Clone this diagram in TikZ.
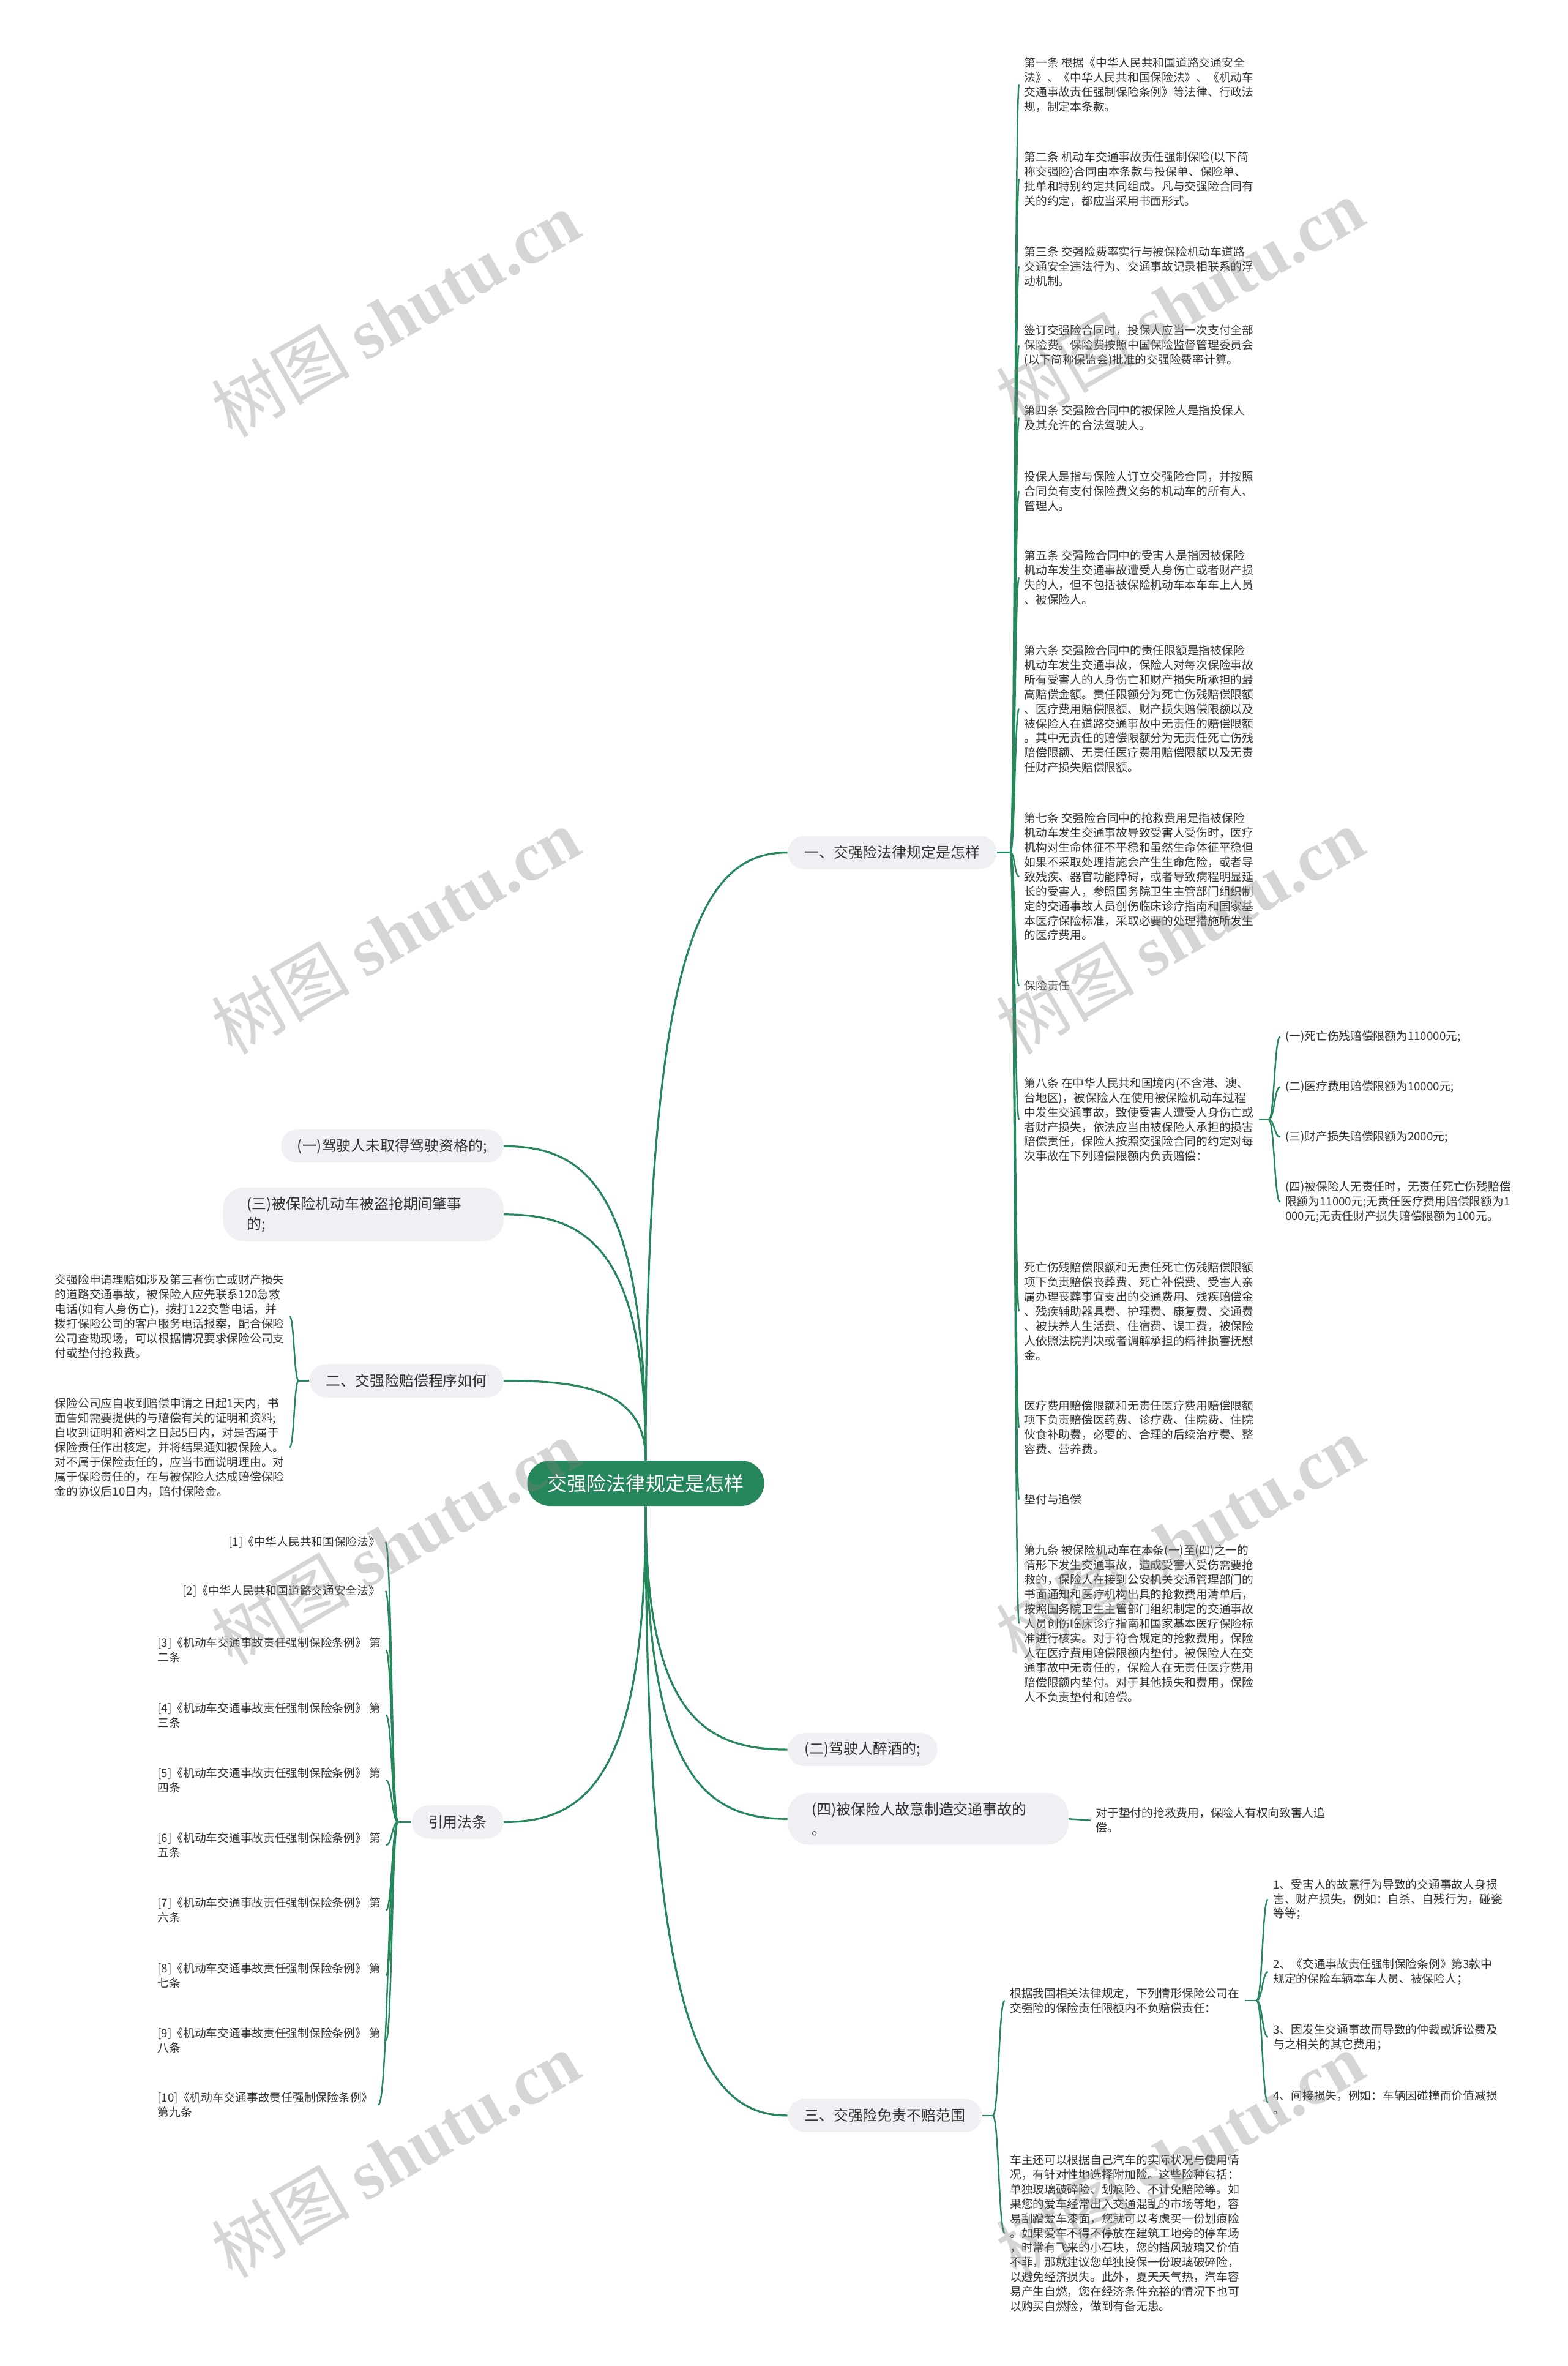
\documentclass[tikz,border=0pt]{standalone}
\usepackage{fontspec}
\setmainfont{Noto Sans CJK SC}
\newfontfamily\wmfont{Liberation Serif}
\usetikzlibrary{calc}
\definecolor{treegreen}{RGB}{38,134,92}
\definecolor{ink}{RGB}{51,51,51}
\definecolor{pill}{RGB}{238,240,243}

\begin{document}
\begin{tikzpicture}[x=1pt,y=-1pt,
  hub/.style={fill=treegreen,text=white,rounded corners=15pt,minimum height=30pt,inner xsep=13.5pt,font=\fontsize{13}{15}\selectfont},
  topic/.style={fill=pill,text=ink,rounded corners=11pt,minimum height=22pt,inner xsep=11pt,align=left,font=\fontsize{9.7}{13.5}\selectfont},
  widepill/.style={text width=154pt,inner xsep=16pt,inner ysep=6pt,rounded corners=14pt},
  note/.style={text=ink,align=left,inner sep=1.5pt,outer sep=2pt,font=\fontsize{7.6}{9.7}\selectfont},
  limb/.style={draw=treegreen,line width=1.3pt},
  twig/.style={draw=treegreen,line width=1pt},
  sprout/.style={to path={.. controls ($(\tikztostart)!.85!(\tikztostart |- \tikztotarget)$) and ($(\tikztotarget)!.6!(\tikztostart |- \tikztotarget)$) .. (\tikztotarget)}},
  curl/.style={to path={.. controls ($(\tikztostart)!.5!(\tikztostart -| \tikztotarget)$) and ($(\tikztotarget)!.5!(\tikztotarget -| \tikztostart)$) .. (\tikztotarget)}},
  wmark/.style={text=gray,opacity=.33,rotate=30,font=\fontsize{46}{46}\selectfont}]
  \useasboundingbox (0,0) rectangle (1039,1568);

  % centre and main branches
  \node[hub] (root) at (428,983) {交强险法律规定是怎样};
  \node[topic,anchor=west] (one) at (522,565) {一、交强险法律规定是怎样};
  \node[topic,anchor=east] (drv1) at (334,759.6) {(一)驾驶人未取得驾驶资格的;};
  \node[topic,widepill,anchor=east] (drv3) at (334,804.8) {(三)被保险机动车被盗抢期间肇事\\的;};
  \node[topic,anchor=east] (two) at (334,915) {二、交强险赔偿程序如何};
  \node[topic,anchor=east] (cite) at (334,1207.5) {引用法条};
  \node[topic,anchor=west] (drv2) at (522,1159.5) {(二)驾驶人醉酒的;};
  \node[topic,widepill,anchor=west] (drv4) at (522,1205.4) {(四)被保险人故意制造交通事故的\\。};
  \node[topic,anchor=west] (three) at (522,1402) {三、交强险免责不赔范围};

  \foreach \t in {one.west,drv1.east,drv3.east,two.east}
    \draw[limb] (root.north) to[sprout] (\t);
  \foreach \t in {drv2.west,drv4.west,three.west,cite.east}
    \draw[limb] (root.south) to[sprout] (\t);

  % 一
  \node[note,anchor=west] (law1) at (675.5,56.2) {第一条 根据《中华人民共和国道路交通安全\\法》、《中华人民共和国保险法》、《机动车\\交通事故责任强制保险条例》等法律、行政法\\规，制定本条款。};
  \node[note,anchor=west] (law2) at (675.5,118.6) {第二条 机动车交通事故责任强制保险(以下简\\称交强险)合同由本条款与投保单、保险单、\\批单和特别约定共同组成。凡与交强险合同有\\关的约定，都应当采用书面形式。};
  \node[note,anchor=west] (law3) at (675.5,176.6) {第三条 交强险费率实行与被保险机动车道路\\交通安全违法行为、交通事故记录相联系的浮\\动机制。};
  \node[note,anchor=west] (law4) at (675.5,229) {签订交强险合同时，投保人应当一次支付全部\\保险费。保险费按照中国保险监督管理委员会\\(以下简称保监会)批准的交强险费率计算。};
  \node[note,anchor=west] (law5) at (675.5,277) {第四条 交强险合同中的被保险人是指投保人\\及其允许的合法驾驶人。};
  \node[note,anchor=west] (law6) at (675.5,325.5) {投保人是指与保险人订立交强险合同，并按照\\合同负有支付保险费义务的机动车的所有人、\\管理人。};
  \node[note,anchor=west] (law7) at (675.5,382.7) {第五条 交强险合同中的受害人是指因被保险\\机动车发生交通事故遭受人身伤亡或者财产损\\失的人，但不包括被保险机动车本车车上人员\\、被保险人。};
  \node[note,anchor=west] (law8) at (675.5,469.8) {第六条 交强险合同中的责任限额是指被保险\\机动车发生交通事故，保险人对每次保险事故\\所有受害人的人身伤亡和财产损失所承担的最\\高赔偿金额。责任限额分为死亡伤残赔偿限额\\、医疗费用赔偿限额、财产损失赔偿限额以及\\被保险人在道路交通事故中无责任的赔偿限额\\。其中无责任的赔偿限额分为无责任死亡伤残\\赔偿限额、无责任医疗费用赔偿限额以及无责\\任财产损失赔偿限额。};
  \node[note,anchor=west] (law9) at (675.5,581) {第七条 交强险合同中的抢救费用是指被保险\\机动车发生交通事故导致受害人受伤时，医疗\\机构对生命体征不平稳和虽然生命体征平稳但\\如果不采取处理措施会产生生命危险，或者导\\致残疾、器官功能障碍，或者导致病程明显延\\长的受害人，参照国务院卫生主管部门组织制\\定的交通事故人员创伤临床诊疗指南和国家基\\本医疗保险标准，采取必要的处理措施所发生\\的医疗费用。};
  \node[note,anchor=west] (law10) at (675.5,653.4) {保险责任};
  \node[note,anchor=west] (law11) at (675.5,742) {第八条 在中华人民共和国境内(不含港、澳、\\台地区)，被保险人在使用被保险机动车过程\\中发生交通事故，致使受害人遭受人身伤亡或\\者财产损失，依法应当由被保险人承担的损害\\赔偿责任，保险人按照交强险合同的约定对每\\次事故在下列赔偿限额内负责赔偿：};
  \node[note,anchor=west] (law12) at (675.5,869) {死亡伤残赔偿限额和无责任死亡伤残赔偿限额\\项下负责赔偿丧葬费、死亡补偿费、受害人亲\\属办理丧葬事宜支出的交通费用、残疾赔偿金\\、残疾辅助器具费、护理费、康复费、交通费\\、被扶养人生活费、住宿费、误工费，被保险\\人依照法院判决或者调解承担的精神损害抚慰\\金。};
  \node[note,anchor=west] (law13) at (675.5,946) {医疗费用赔偿限额和无责任医疗费用赔偿限额\\项下负责赔偿医药费、诊疗费、住院费、住院\\伙食补助费，必要的、合理的后续治疗费、整\\容费、营养费。};
  \node[note,anchor=west] (law14) at (675.5,993.8) {垫付与追偿};
  \node[note,anchor=west] (law15) at (675.5,1076) {第九条 被保险机动车在本条(一)至(四)之一的\\情形下发生交通事故，造成受害人受伤需要抢\\救的，保险人在接到公安机关交通管理部门的\\书面通知和医疗机构出具的抢救费用清单后，\\按照国务院卫生主管部门组织制定的交通事故\\人员创伤临床诊疗指南和国家基本医疗保险标\\准进行核实。对于符合规定的抢救费用，保险\\人在医疗费用赔偿限额内垫付。被保险人在交\\通事故中无责任的，保险人在无责任医疗费用\\赔偿限额内垫付。对于其他损失和费用，保险\\人不负责垫付和赔偿。};
  \coordinate (j1) at ([xshift=9pt]one.east);
  \draw[twig] (one.east) -- (j1);
  \foreach \i in {1,...,15}
    \draw[twig] (j1) to[curl] (law\i.west);

  \node[note,anchor=west] (cap1) at (848.5,687) {(一)死亡伤残赔偿限额为110000元;};
  \node[note,anchor=west] (cap2) at (848.5,720.4) {(二)医疗费用赔偿限额为10000元;};
  \node[note,anchor=west] (cap3) at (848.5,753.5) {(三)财产损失赔偿限额为2000元;};
  \node[note,anchor=west] (cap4) at (848.5,796.5) {(四)被保险人无责任时，无责任死亡伤残赔偿\\限额为11000元;无责任医疗费用赔偿限额为1\\000元;无责任财产损失赔偿限额为100元。};
  \coordinate (j8) at ([xshift=6.5pt]law11.east);
  \draw[twig] (law11.east) -- (j8);
  \foreach \i in {1,...,4}
    \draw[twig] (j8) to[curl] (cap\i.west);

  % 二
  \node[note,anchor=west] (claim1) at (33,872.3) {交强险申请理赔如涉及第三者伤亡或财产损失\\的道路交通事故，被保险人应先联系120急救\\电话(如有人身伤亡)，拨打122交警电话，并\\拨打保险公司的客户服务电话报案，配合保险\\公司查勘现场，可以根据情况要求保险公司支\\付或垫付抢救费。};
  \node[note,anchor=west] (claim2) at (33,959.2) {保险公司应自收到赔偿申请之日起1天内，书\\面告知需要提供的与赔偿有关的证明和资料;\\自收到证明和资料之日起5日内，对是否属于\\保险责任作出核定，并将结果通知被保险人。\\对不属于保险责任的，应当书面说明理由。对\\属于保险责任的，在与被保险人达成赔偿保险\\金的协议后10日内，赔付保险金。};
  \coordinate (j2) at ([xshift=-7pt]two.west);
  \draw[twig] (two.west) -- (j2);
  \foreach \i in {1,2}
    \draw[twig] (j2) to[curl] (claim\i.east);

  % 引用法条
  \node[note,anchor=east] (ref1) at (255.5,1022) {[1]《中华人民共和国保险法》};
  \node[note,anchor=east] (ref2) at (255.5,1054.4) {[2]《中华人民共和国道路交通安全法》};
  \foreach \n [count=\i from 3] in {二,三,四,五,六,七,八}{
    \pgfmathsetmacro\yy{1093.6+(\i-3)*43.1}
    \node[note,anchor=west] (ref\i) at (101,\yy) {[\i]《机动车交通事故责任强制保险条例》~第\\{\n}条};
  }
  \node[note,anchor=west] (ref10) at (101,1395) {[10]《机动车交通事故责任强制保险条例》\\第九条};
  \coordinate (jr) at ([xshift=-9pt]cite.west);
  \draw[twig] (cite.west) -- (jr);
  \foreach \i in {1,...,10}
    \draw[twig] (jr) to[curl] (ref\i.east);

  % (四)
  \node[note,anchor=west] (recover) at (723,1206.4) {对于垫付的抢救费用，保险人有权向致害人追\\偿。};
  \draw[twig] (drv4.east) -- (recover.west);

  % 三
  \node[note,anchor=west] (basis) at (666,1325.8) {根据我国相关法律规定，下列情形保险公司在\\交强险的保险责任限额内不负赔偿责任：};
  \node[note,anchor=west] (extra) at (666,1480) {车主还可以根据自己汽车的实际状况与使用情\\况，有针对性地选择附加险。这些险种包括：\\单独玻璃破碎险、划痕险、不计免赔险等。如\\果您的爱车经常出入交通混乱的市场等地，容\\易刮蹭爱车漆面，您就可以考虑买一份划痕险\\。如果爱车不得不停放在建筑工地旁的停车场\\，时常有飞来的小石块，您的挡风玻璃又价值\\不菲，那就建议您单独投保一份玻璃破碎险，\\以避免经济损失。此外，夏天天气热，汽车容\\易产生自燃，您在经济条件充裕的情况下也可\\以购买自燃险，做到有备无患。};
  \coordinate (j3) at ([xshift=7pt]three.east);
  \draw[twig] (three.east) -- (j3);
  \draw[twig] (j3) to[curl] (basis.west);
  \draw[twig] (j3) to[curl] (extra.west);

  \node[note,anchor=west] (ex1) at (840.5,1258.7) {1、受害人的故意行为导致的交通事故人身损\\害、财产损失，例如：自杀、自残行为，碰瓷\\等等；};
  \node[note,anchor=west] (ex2) at (840.5,1306.8) {2、《交通事故责任强制保险条例》第3款中\\规定的保险车辆本车人员、被保险人；};
  \node[note,anchor=west] (ex3) at (840.5,1350) {3、因发生交通事故而导致的仲裁或诉讼费及\\与之相关的其它费用；};
  \node[note,anchor=west] (ex4) at (840.5,1393.4) {4、间接损失，例如：车辆因碰撞而价值减损\\。};
  \coordinate (jg) at ([xshift=8pt]basis.east);
  \draw[twig] (basis.east) -- (jg);
  \foreach \i in {1,...,4}
    \draw[twig] (jg) to[curl] (ex\i.west);

  % watermark
  \foreach \wx/\wy in {262/208,782/200,262/617,782/617,262/1022,782/1020,262/1428,782/1428}
    \node[wmark] at (\wx,\wy) {树图 {\wmfont\bfseries shutu.cn}};
\end{tikzpicture}
\end{document}
